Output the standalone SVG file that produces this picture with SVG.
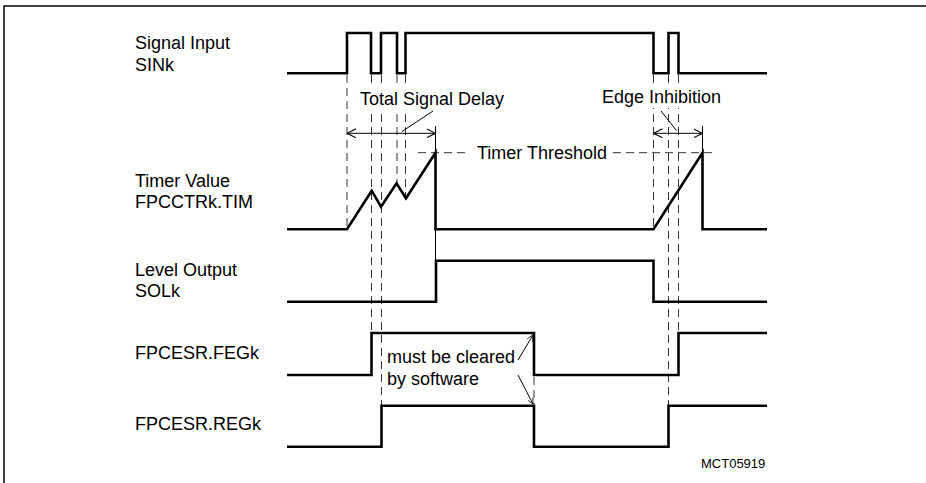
<svg xmlns="http://www.w3.org/2000/svg" width="926" height="483" viewBox="0 0 926 483">
<style>
text{font-family:"Liberation Sans",Arial,sans-serif;font-size:18px;fill:#000}
.small{font-size:13px}
.wave{fill:none;stroke:#000;stroke-width:2.6;stroke-linejoin:miter}
.dash{fill:none;stroke:#333;stroke-width:1;stroke-dasharray:8 5}
.thin{fill:none;stroke:#000;stroke-width:1}
.bg{fill:#fff}
.frame{fill:none;stroke:#000;stroke-width:1.5}
</style>
<defs>
<marker id="chev" viewBox="0 0 10 10" refX="10" refY="5" markerWidth="9" markerHeight="10" markerUnits="userSpaceOnUse" orient="auto-start-reverse">
<path d="M0,0 L10,5 L0,10" fill="none" stroke="#000" stroke-width="1.2"/>
</marker>
<marker id="tip" viewBox="0 0 10 10" refX="10" refY="5" markerWidth="7" markerHeight="6" markerUnits="userSpaceOnUse" orient="auto">
<path d="M0,0 L10,5 L0,10" fill="none" stroke="#000" stroke-width="1.2"/>
</marker>
</defs>
<rect width="926" height="483" fill="#fff"/>
<path class="frame" d="M4,483 L4,6 L926,6"/>

<g id="connectors">
<path class="dash" d="M347,75 V229"/>
<path class="dash" d="M371.5,75 V333"/>
<path class="dash" d="M381.5,75 V405"/>
<path class="dash" d="M397,75 V183"/>
<path class="dash" d="M405.5,75 V198"/>
<path class="dash" d="M653.5,75 V229"/>
<path class="dash" d="M668.5,75 V405"/>
<path class="dash" d="M678.5,75 V333"/>
<path class="dash" d="M534,377 V405"/>
<path class="dash" d="M418,152.7 H468"/>
<path class="dash" d="M613,152.7 H717"/>
<path class="thin" d="M435.5,126 V260"/>
<path class="thin" d="M702.5,126 V152"/>
<rect class="bg" x="358" y="88" width="152" height="22"/>
<rect class="bg" x="599" y="86" width="124" height="22"/>
<path class="thin" d="M347,133.3 H435.5" marker-start="url(#chev)" marker-end="url(#chev)"/>
<path class="thin" d="M653.5,133.3 H702.5" marker-start="url(#chev)" marker-end="url(#chev)"/>
<path class="thin" d="M433,111 L402,131.5"/>
<path class="thin" d="M661,111 L676.5,130.5"/>
<path class="thin" d="M518,360 L533,335" marker-end="url(#tip)"/>
<path class="thin" d="M518,375 L533,404" marker-end="url(#tip)"/>
</g>

<g id="sink">
<text x="135" y="48.5">Signal Input</text>
<text x="135" y="70.5">SINk</text>
<path class="wave" d="M287,73.3 H347 V33 H371 V73.3 H381 V33 H397 V73.3 H405.5 V33 H653.5 V73.3 H668.5 V33 H678.5 V73.3 H767"/>
</g>

<g id="timer">
<text x="135" y="186.5">Timer Value</text>
<text x="135" y="208">FPCCTRk.TIM</text>
<path class="wave" d="M287,229.3 H347 L371.7,190.7 L381,206.7 L396.5,183.3 L406,198.3 L435.5,152.7 V229.3 H653.5 L702.5,152.7 V229.3 H767"/>
</g>

<g id="threshold-label">
<text x="477" y="159">Timer Threshold</text>
</g>

<g id="sol">
<text x="135" y="276">Level Output</text>
<text x="135" y="297">SOLk</text>
<path class="wave" d="M287,301.7 H436 V260.7 H653.5 V301.7 H767"/>
</g>

<g id="feg">
<text x="135" y="358.5">FPCESR.FEGk</text>
<path class="wave" d="M287,375 H371.5 V333 H534 V375 H678.5 V333 H767"/>
</g>

<g id="reg">
<text x="135" y="430">FPCESR.REGk</text>
<path class="wave" d="M287,446.7 H381.5 V405.7 H534 V446.7 H668.5 V405.7 H767"/>
</g>

<g id="total-delay-label">
<text x="360" y="105">Total Signal Delay</text>
</g>
<g id="edge-inhibition-label">
<text x="602" y="103">Edge Inhibition</text>
</g>
<g id="clear-label">
<text x="387" y="363">must be cleared</text>
<text x="387" y="385">by software</text>
</g>
<g id="figure-id">
<text class="small" x="701" y="468">MCT05919</text>
</g>
</svg>
